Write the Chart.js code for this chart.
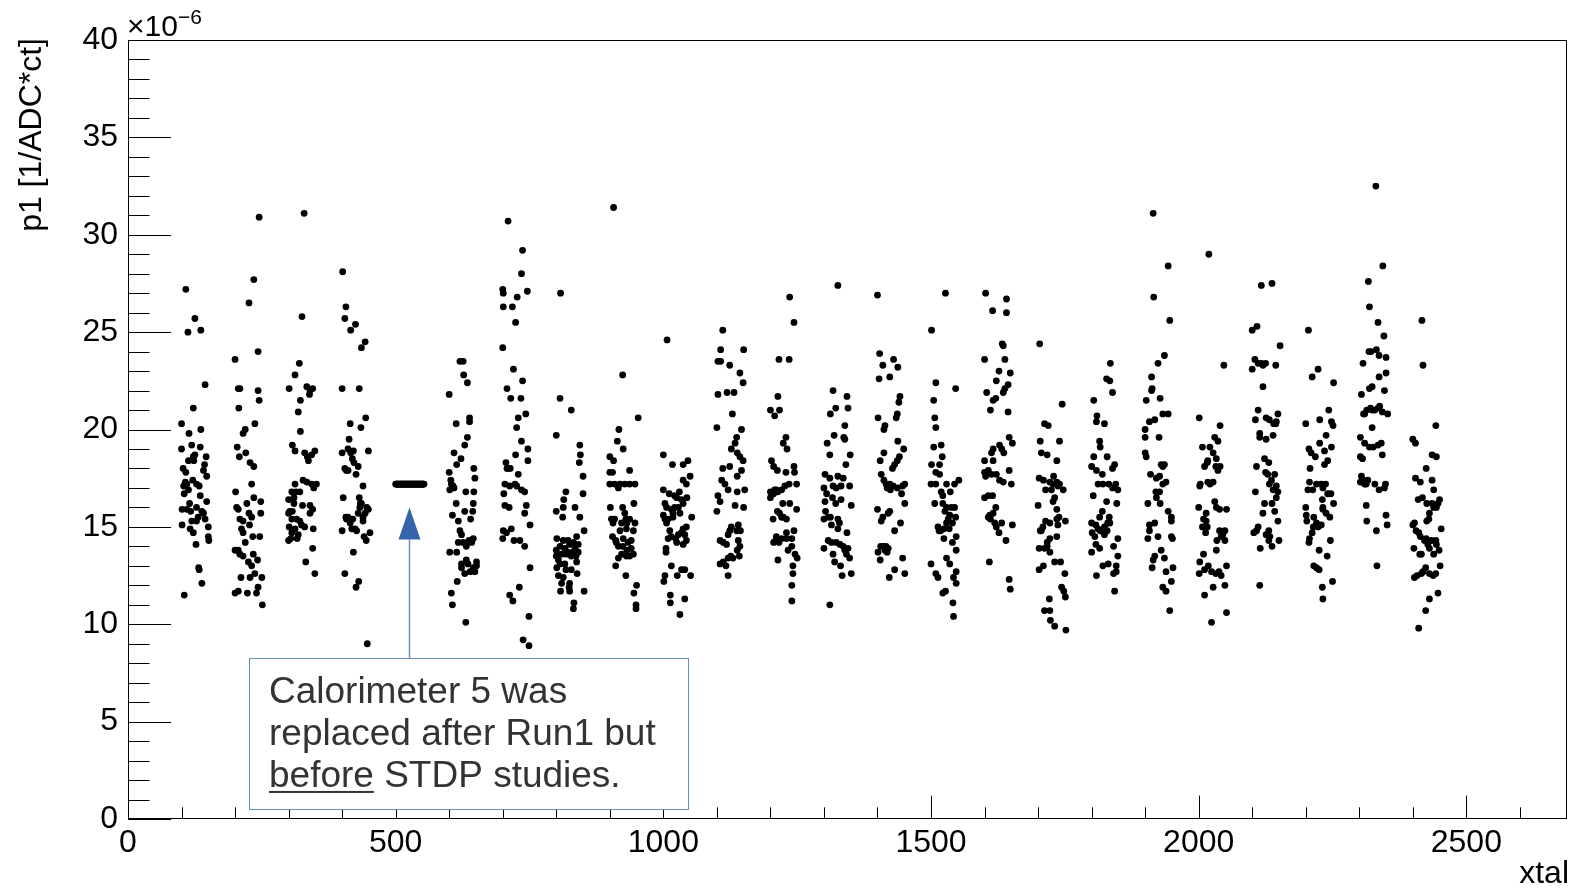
<!DOCTYPE html>
<html>
<head>
<meta charset="utf-8">
<script src="https://cdn.jsdelivr.net/npm/chart.js@4.4.1/dist/chart.umd.min.js"></script>
<style>
    html, body { margin: 0; padding: 0; background: #fff; }
    #wrap { position: relative; width: 1575px; height: 890px; }
</style>
</head>
<body>
<div id="wrap"><canvas id="chartP1" width="1575" height="890"></canvas></div>
<script>
// p1 per crystal, one list per calorimeter: [crystal in calo, p1 in units of 1e-6]
const calo01 = [[8,27.2],[25,25.7],[12,25.0],[36,25.1],[44,22.3],[22,21.1],[0,20.3],[14,19.8],[36,20.0],[0,19.0],[19,19.2],[35,19.1],[25,18.7],[22,18.6],[46,18.6],[13,18.4],[3,18.0],[43,18.2],[41,17.9],[47,17.6],[7,17.3],[21,17.4],[28,17.2],[4,17.1],[13,16.9],[5,16.7],[35,16.6],[47,16.3],[1,15.9],[10,15.9],[17,15.8],[28,16.0],[38,15.8],[41,15.7],[31,15.5],[19,15.3],[28,15.3],[1,15.1],[16,14.9],[50,15.0],[50,14.5],[51,14.3],[27,14.1],[32,12.9],[38,12.1],[5,11.5],[23,18.4],[8,17.8],[33,17.1],[15,16.2],[44,15.4],[22,14.7],[33,12.8],[10,17.2]];
const calo02 = [[45,30.9],[35,27.7],[26,26.5],[43,24.0],[0,23.6],[6,22.1],[9,22.1],[43,22.0],[45,21.5],[7,21.1],[37,20.3],[19,20.0],[15,19.8],[4,19.1],[20,18.8],[8,18.6],[28,18.3],[35,18.1],[31,17.2],[1,16.8],[22,16.2],[35,16.5],[48,16.3],[3,16.0],[6,15.9],[26,15.7],[48,15.7],[9,15.4],[15,15.3],[27,15.1],[12,14.9],[15,14.7],[33,14.5],[46,14.5],[0,13.8],[9,13.6],[15,13.5],[25,13.2],[31,13.0],[42,13.3],[37,12.6],[50,12.4],[28,12.4],[11,12.4],[0,11.6],[6,11.7],[23,11.6],[40,11.6],[43,11.9],[51,11.0],[19,14.2],[31,15.5],[6,13.8],[34,13.6]];
const calo03 = [[29,31.1],[25,25.8],[20,23.4],[12,22.8],[1,22.1],[34,22.2],[40,22.0],[45,22.1],[39,21.8],[22,21.5],[18,20.9],[22,19.9],[7,19.2],[12,18.9],[30,18.8],[35,18.6],[43,18.7],[49,18.9],[37,18.4],[27,17.4],[34,17.3],[43,17.2],[47,17.0],[52,17.2],[12,17.2],[6,16.8],[14,16.8],[21,16.8],[0,16.4],[10,16.5],[26,16.1],[40,16.1],[45,15.9],[2,15.8],[0,15.7],[7,15.8],[6,15.4],[15,15.4],[21,15.3],[1,15.0],[12,14.9],[24,15.1],[30,15.0],[46,14.9],[6,14.7],[18,14.6],[0,14.3],[4,14.4],[16,14.4],[45,13.9],[32,13.2],[49,12.6],[10,16.2],[40,15.7]];
const calo04 = [[1,28.1],[7,26.3],[5,25.7],[25,25.4],[16,25.1],[43,24.5],[36,24.2],[0,22.1],[32,22.1],[44,20.6],[15,20.3],[35,20.1],[13,19.5],[0,18.8],[11,19.0],[21,18.9],[49,18.9],[19,18.5],[22,18.3],[5,18.0],[11,17.9],[30,18.1],[26,17.7],[39,17.1],[2,16.5],[32,16.5],[36,16.2],[46,16.0],[49,15.9],[43,15.7],[39,15.3],[30,15.7],[11,15.5],[8,15.4],[20,15.4],[24,14.9],[18,14.9],[0,14.8],[52,14.7],[41,14.5],[45,14.3],[21,13.7],[5,12.6],[31,12.2],[26,11.9],[47,9.0],[15,15.2],[33,16.0],[8,17.9],[16,18.8],[39,15.5],[27,14.8],[7,15.5],[34,16.2]];
const calo05 = [[0,17.2],[1,17.2],[2,17.2],[3,17.2],[4,17.2],[5,17.2],[6,17.2],[7,17.2],[8,17.2],[9,17.2],[10,17.2],[11,17.2],[12,17.2],[13,17.2],[14,17.2],[15,17.2],[16,17.2],[17,17.2],[18,17.2],[19,17.2],[20,17.2],[21,17.2],[22,17.2],[23,17.2],[24,17.2],[25,17.2],[26,17.2],[27,17.2],[28,17.2],[29,17.2],[30,17.2],[31,17.2],[32,17.2],[33,17.2],[34,17.2],[35,17.2],[36,17.2],[37,17.2],[38,17.2],[39,17.2],[40,17.2],[41,17.2],[42,17.2],[43,17.2],[44,17.2],[45,17.2],[46,17.2],[47,17.2],[48,17.2],[49,17.2],[50,17.2],[51,17.2],[52,17.2],[53,17.2]];
const calo06 = [[20,23.5],[26,23.5],[27,22.8],[34,22.4],[0,21.8],[38,20.6],[38,20.4],[13,20.3],[34,19.6],[29,19.2],[9,18.8],[22,18.5],[14,18.2],[46,18.0],[48,17.5],[0,17.8],[3,17.4],[9,17.0],[31,16.8],[46,16.8],[13,16.2],[29,15.8],[44,15.8],[6,15.6],[40,15.4],[17,15.3],[23,14.6],[45,14.4],[42,14.2],[32,14.0],[17,14.2],[1,13.7],[14,13.7],[32,13.3],[51,13.0],[45,12.9],[39,12.7],[23,12.9],[29,12.6],[23,13.1],[15,12.2],[4,11.6],[6,11.0],[31,10.1],[4,17.2],[35,13.1],[51,13.2],[26,14.2],[1,16.9],[48,12.7],[20,14.8],[45,16.2],[37,14.3],[7,17.1]];
const calo07 = [[10,30.7],[37,29.2],[35,28.0],[0,27.2],[1,27.0],[27,26.8],[46,27.1],[1,26.3],[18,26.3],[24,25.5],[0,24.2],[20,23.1],[37,22.5],[8,22.1],[15,21.6],[34,21.6],[43,20.8],[29,20.6],[26,20.1],[35,19.4],[47,19.0],[24,18.7],[47,18.4],[6,18.3],[14,18.0],[8,18.0],[29,17.7],[4,17.2],[13,17.1],[23,17.2],[35,16.9],[41,16.8],[2,16.7],[4,16.1],[12,16.0],[44,16.1],[41,15.7],[51,15.1],[1,14.8],[0,14.4],[16,14.9],[21,14.3],[32,14.3],[41,14.0],[51,12.9],[31,11.9],[13,11.5],[19,11.2],[49,10.4],[38,9.2],[49,8.9],[10,18.0],[26,17.1],[7,14.7]];
const calo08 = [[8,27.0],[7,21.6],[28,21.0],[0,19.7],[44,19.2],[45,18.7],[43,18.3],[50,17.6],[18,16.8],[50,16.7],[14,16.4],[13,16.0],[35,16.0],[0,15.8],[12,15.5],[44,15.5],[52,14.8],[1,14.4],[38,14.5],[32,14.2],[7,14.0],[16,13.9],[25,14.1],[35,13.9],[41,14.1],[0,13.5],[4,13.3],[28,13.5],[22,13.7],[7,13.1],[16,13.1],[38,13.2],[39,12.6],[4,12.5],[13,12.4],[25,12.1],[24,11.9],[8,11.7],[52,11.7],[33,11.1],[32,10.8],[0,13.8],[19,13.6],[32,13.7],[10,13.6],[41,13.7],[1,12.9],[18,12.8],[28,12.8],[37,13.5],[13,14.3],[22,14.3],[10,12.1],[25,11.7]];
const calo09 = [[7,31.4],[24,22.8],[53,20.6],[17,20.0],[14,19.4],[25,19.0],[0,18.6],[7,18.4],[0,17.8],[5,17.8],[37,17.9],[0,17.2],[9,17.2],[19,17.2],[28,17.2],[37,17.2],[47,17.2],[16,17.0],[45,16.2],[1,16.0],[3,15.4],[9,15.4],[28,15.7],[30,15.4],[22,15.2],[32,15.2],[47,15.2],[44,14.8],[31,14.9],[5,14.5],[11,14.3],[40,14.3],[16,14.0],[22,13.6],[16,13.4],[31,13.5],[37,13.5],[40,13.9],[30,12.5],[50,12.0],[45,11.6],[49,11.0],[49,10.8],[24,14.0],[12,14.2],[34,14.2],[19,14.8],[25,14.4],[6,15.2],[37,15.4],[24,16.0],[44,13.6],[11,13.0],[32,13.8]];
const calo10 = [[7,24.6],[0,18.7],[17,18.2],[37,18.2],[46,18.4],[50,17.6],[37,17.4],[43,17.2],[0,16.9],[11,16.7],[21,16.6],[30,16.8],[25,16.5],[34,16.4],[44,16.5],[3,16.2],[6,16.0],[15,15.9],[21,16.0],[28,16.0],[0,15.6],[3,15.4],[9,15.4],[18,15.5],[53,15.5],[6,15.2],[37,14.9],[43,15.0],[34,14.7],[40,14.6],[43,14.3],[37,14.1],[9,14.4],[15,14.5],[23,14.4],[28,14.6],[5,13.9],[5,13.7],[15,13.0],[3,12.5],[1,12.2],[26,12.5],[34,12.8],[40,12.8],[51,12.5],[13,11.5],[13,11.1],[40,11.3],[31,10.5],[31,15.7],[12,14.8],[37,16.2],[25,14.2],[18,15.7]];
const calo11 = [[11,25.1],[7,24.1],[50,24.1],[2,23.5],[7,23.5],[24,23.3],[43,22.9],[49,22.4],[2,21.8],[19,21.9],[32,21.9],[29,20.8],[0,20.1],[46,20.0],[37,19.6],[34,19.3],[27,19.0],[38,18.8],[43,18.6],[49,18.4],[46,17.9],[24,18.1],[11,18.0],[38,17.6],[9,17.4],[15,17.2],[21,16.9],[38,16.8],[52,16.9],[2,16.6],[6,16.3],[34,16.1],[50,16.0],[0,15.8],[40,15.1],[27,15.0],[24,14.8],[21,14.6],[37,14.8],[6,14.3],[12,14.2],[18,14.1],[40,14.3],[43,14.0],[38,13.8],[21,13.4],[26,13.5],[42,13.5],[6,13.1],[12,13.2],[21,12.5],[30,13.4],[17,13.0],[44,14.8]];
const calo12 = [[36,26.8],[44,25.5],[16,23.6],[35,23.6],[14,21.7],[0,21.0],[17,21.0],[8,20.7],[29,19.6],[24,19.3],[31,19.0],[2,18.4],[6,18.1],[13,17.9],[29,17.8],[44,18.1],[45,17.8],[35,17.2],[27,17.1],[49,17.2],[21,16.9],[14,16.8],[0,16.8],[0,16.5],[6,16.7],[11,16.9],[23,16.2],[49,15.9],[13,15.8],[17,15.7],[24,15.5],[30,15.4],[5,15.4],[44,14.8],[11,14.5],[10,14.3],[21,14.4],[30,14.4],[40,14.4],[6,14.2],[40,14.0],[33,13.8],[46,13.6],[50,13.4],[14,13.3],[42,13.0],[42,12.6],[40,12.0],[40,11.2],[21,15.5],[30,14.7],[8,16.9],[36,16.2],[16,14.2]];
const calo13 = [[26,27.4],[17,22.0],[43,21.7],[22,21.1],[12,20.8],[45,21.1],[39,20.2],[19,19.7],[37,19.6],[39,19.5],[6,19.3],[11,18.7],[49,18.7],[41,18.2],[2,17.7],[11,17.5],[26,17.6],[36,17.5],[48,17.1],[0,17.0],[17,17.1],[23,17.0],[32,17.1],[5,16.7],[16,16.5],[32,16.4],[2,16.3],[22,16.2],[51,16.1],[3,15.8],[0,15.4],[12,15.5],[26,15.4],[29,15.2],[14,15.1],[26,14.9],[43,14.7],[8,14.3],[14,14.2],[0,13.9],[30,14.1],[36,14.0],[45,13.9],[42,13.6],[48,13.4],[17,13.6],[20,13.2],[31,13.0],[34,12.5],[51,12.6],[11,11.0],[23,14.2],[39,13.8],[8,15.5]];
const calo14 = [[0,26.9],[4,23.9],[10,23.3],[30,23.6],[38,23.2],[3,22.6],[23,22.7],[42,21.7],[40,21.4],[37,20.8],[35,20.6],[1,20.6],[14,20.2],[12,20.0],[38,19.4],[49,19.0],[12,18.8],[41,18.6],[5,18.4],[37,18.4],[32,18.2],[28,18.0],[7,17.7],[12,17.4],[16,17.2],[22,17.1],[29,17.1],[51,17.2],[47,17.1],[24,16.9],[45,16.7],[51,16.2],[0,15.9],[23,15.8],[20,15.7],[7,15.3],[43,15.2],[32,14.8],[6,14.0],[11,14.0],[16,14.0],[20,13.9],[1,13.7],[18,13.7],[5,13.3],[47,13.4],[32,12.8],[51,12.6],[22,12.4],[18,17.0],[23,17.2],[14,13.8],[37,17.0],[10,15.5]];
const calo15 = [[27,27.0],[1,25.1],[9,22.4],[46,22.1],[5,21.5],[7,20.6],[9,20.1],[5,19.1],[19,19.2],[21,18.6],[1,18.2],[16,18.2],[9,17.8],[16,17.7],[0,17.2],[9,17.2],[29,17.2],[44,17.2],[52,17.4],[19,16.8],[22,16.6],[36,16.8],[7,16.2],[22,16.2],[29,16.0],[38,16.0],[44,16.0],[26,15.8],[35,15.6],[46,15.5],[32,15.4],[29,15.2],[40,15.2],[13,15.0],[18,14.8],[24,14.9],[34,14.9],[15,14.8],[24,14.4],[47,14.5],[40,14.2],[47,13.8],[0,13.1],[9,12.6],[13,12.4],[29,13.4],[35,13.1],[47,12.7],[42,12.4],[47,12.1],[27,11.7],[22,11.6],[41,11.1],[42,10.4]];
const calo16 = [[2,27.0],[41,26.7],[15,26.1],[41,26.0],[33,24.4],[35,24.3],[0,23.6],[38,23.6],[27,23.0],[48,22.9],[22,22.5],[44,22.3],[38,22.1],[35,21.9],[4,21.9],[21,21.6],[16,21.5],[11,21.0],[44,20.9],[46,19.6],[52,19.3],[28,19.2],[16,19.0],[13,18.8],[36,18.8],[0,18.4],[16,18.4],[7,17.9],[46,17.9],[2,17.6],[13,17.7],[22,17.7],[28,17.4],[35,17.3],[50,17.2],[0,16.5],[7,16.6],[15,16.6],[21,16.0],[16,15.7],[7,15.5],[11,15.4],[32,15.2],[22,15.0],[52,15.1],[27,14.7],[40,14.3],[9,13.2],[46,12.3],[48,11.8],[10,15.6],[0,17.8],[19,15.2],[32,19.0]];
const calo17 = [[3,24.4],[45,21.3],[12,20.3],[19,20.2],[4,19.4],[40,19.4],[6,18.8],[17,18.7],[35,18.4],[2,17.5],[10,17.4],[22,17.3],[29,17.6],[35,17.3],[40,17.2],[14,16.9],[25,16.9],[37,17.1],[47,16.9],[31,16.5],[28,16.3],[0,16.1],[35,15.9],[14,15.3],[22,15.2],[35,15.4],[37,15.1],[51,15.3],[4,14.8],[6,14.8],[22,14.4],[35,14.5],[17,14.2],[2,13.9],[12,13.9],[22,13.7],[31,13.2],[42,13.2],[2,12.8],[10,13.0],[50,12.6],[44,11.9],[48,11.7],[51,11.4],[21,11.3],[12,10.7],[22,10.7],[23,10.2],[31,9.9],[52,9.7],[9,15.0],[28,17.2],[17,14.0],[39,15.5]];
const calo18 = [[35,23.4],[28,22.6],[34,22.5],[39,21.9],[4,21.5],[10,20.7],[9,20.4],[24,20.3],[15,19.4],[16,19.1],[4,18.6],[29,18.6],[43,18.2],[39,18.0],[0,18.1],[9,17.9],[20,17.7],[12,17.2],[21,17.2],[32,17.2],[45,17.2],[49,16.9],[39,17.0],[3,16.6],[28,16.3],[47,16.2],[20,15.8],[33,15.5],[0,15.2],[8,15.1],[12,14.9],[24,15.0],[30,15.2],[29,14.8],[16,14.8],[1,14.7],[6,14.5],[24,14.6],[49,14.4],[41,14.0],[49,13.5],[8,14.1],[15,13.9],[0,13.7],[31,13.1],[21,13.0],[46,13.0],[46,12.7],[41,12.6],[9,12.5],[43,11.7],[18,14.8],[34,15.2],[15,15.5]];
const calo19 = [[15,31.1],[43,28.4],[16,26.8],[46,25.6],[36,23.8],[24,23.4],[12,22.7],[12,22.0],[13,22.1],[2,21.5],[28,21.6],[33,20.8],[43,20.8],[18,20.5],[8,20.4],[0,20.0],[0,19.6],[26,19.6],[0,18.8],[2,18.6],[30,18.2],[36,18.2],[10,17.7],[27,17.6],[39,17.3],[33,17.2],[20,16.8],[27,16.8],[21,16.5],[5,16.2],[28,16.2],[43,15.8],[49,15.5],[49,15.3],[8,15.1],[18,15.2],[5,14.4],[49,14.5],[51,14.4],[30,13.8],[18,13.5],[15,13.3],[36,13.4],[13,12.9],[39,12.7],[52,12.9],[49,12.2],[33,11.9],[39,11.7],[46,10.7],[21,17.5],[8,14.8],[33,18.1],[24,14.5]];
const calo20 = [[19,29.0],[47,23.3],[1,20.6],[40,20.2],[30,19.6],[36,19.4],[7,19.1],[21,19.1],[27,18.8],[33,18.5],[17,18.4],[11,18.1],[32,18.1],[40,18.1],[17,17.3],[27,17.3],[3,17.2],[2,17.1],[30,16.3],[33,16.0],[39,15.9],[52,15.9],[0,16.0],[14,15.7],[9,15.4],[14,15.3],[7,15.0],[13,14.7],[39,14.8],[49,14.8],[45,14.6],[34,14.3],[49,14.3],[33,13.8],[9,13.6],[2,13.2],[18,13.0],[24,12.7],[38,12.7],[42,12.5],[52,13.0],[32,12.6],[1,12.6],[49,12.0],[27,11.9],[11,11.5],[52,10.6],[24,10.1],[21,17.2],[16,15.0],[42,14.5],[11,12.8],[36,17.9],[16,18.3]];
const calo21 = [[17,27.4],[37,27.5],[0,25.1],[9,25.3],[52,24.3],[5,23.6],[11,23.4],[0,23.1],[20,23.3],[25,23.4],[44,23.3],[20,22.2],[11,21.0],[6,20.5],[26,20.6],[32,20.5],[40,20.3],[48,20.8],[44,20.3],[14,19.8],[14,19.6],[26,19.5],[39,19.7],[8,18.1],[23,18.5],[31,18.3],[25,17.8],[29,17.7],[42,17.7],[36,17.4],[45,17.1],[39,16.9],[48,16.8],[45,16.5],[37,16.2],[6,16.8],[20,15.7],[42,15.8],[48,15.3],[11,15.0],[3,14.7],[31,14.8],[26,14.6],[31,14.3],[37,14.0],[50,14.3],[15,13.9],[14,12.0],[33,14.5],[17,23.4],[45,20.4],[32,17.2],[23,16.2],[8,14.8]];
const calo22 = [[5,25.1],[23,23.1],[12,22.7],[52,22.4],[43,21.0],[0,20.3],[26,20.5],[48,20.4],[51,20.2],[38,19.7],[26,19.3],[48,19.1],[6,19.0],[10,18.8],[18,18.6],[35,18.9],[35,18.2],[8,18.0],[7,17.3],[29,17.2],[37,17.2],[4,16.9],[13,16.9],[32,17.0],[41,16.7],[47,16.7],[31,16.4],[32,16.0],[52,16.2],[0,16.0],[1,15.6],[15,15.5],[38,15.7],[45,15.5],[2,15.3],[20,15.2],[29,15.1],[23,15.0],[12,14.7],[7,14.4],[6,14.2],[46,14.3],[25,13.8],[40,13.5],[15,13.0],[20,12.9],[25,12.8],[50,12.2],[31,11.9],[32,11.3],[20,17.2],[32,15.9],[14,15.0],[41,18.4]];
const calo23 = [[31,32.5],[44,28.4],[17,27.6],[19,26.3],[35,25.5],[46,24.8],[18,24.0],[32,24.1],[37,23.8],[50,23.7],[7,23.4],[50,22.9],[37,22.7],[19,22.1],[24,22.2],[47,22.0],[4,21.8],[14,21.0],[21,21.1],[35,21.1],[43,20.9],[53,20.8],[8,20.8],[29,21.0],[24,20.1],[2,19.6],[10,19.3],[19,19.1],[26,19.1],[41,19.3],[43,18.7],[2,18.6],[6,18.5],[4,17.6],[7,17.4],[2,17.3],[10,17.2],[29,17.2],[37,16.9],[49,17.2],[13,16.1],[50,15.6],[52,15.1],[14,15.3],[32,14.8],[33,13.0],[16,17.4],[24,21.0],[10,20.8],[38,21.2],[35,19.2],[13,17.2],[22,24.0],[47,17.0]];
const calo24 = [[17,25.6],[19,23.3],[43,20.2],[0,19.5],[5,19.3],[36,18.7],[44,18.6],[25,18.0],[5,17.5],[14,17.3],[36,17.4],[39,16.9],[18,16.5],[10,16.4],[26,16.2],[36,16.2],[44,16.0],[50,16.4],[31,15.7],[39,16.0],[30,15.4],[26,15.3],[3,15.2],[0,15.1],[53,14.9],[11,14.7],[14,14.5],[25,14.4],[35,14.3],[43,14.3],[2,13.9],[13,13.6],[31,13.9],[39,13.6],[49,13.8],[51,13.0],[24,12.9],[19,12.7],[31,12.6],[3,12.4],[8,12.5],[43,12.6],[47,11.6],[31,11.3],[24,10.7],[11,9.8],[16,13.6],[28,14.1],[44,14.1],[22,14.3],[16,12.6],[47,16.2],[6,14.8],[38,12.5]];

const calos = [calo01, calo02, calo03, calo04, calo05, calo06, calo07, calo08,
               calo09, calo10, calo11, calo12, calo13, calo14, calo15, calo16,
               calo17, calo18, calo19, calo20, calo21, calo22, calo23, calo24];

const xMajor = [0, 500, 1000, 1500, 2000, 2500];
const yMajor = [0, 5, 10, 15, 20, 25, 30, 35, 40];
const xMax = 2688;
const yMax = 40;

const noteLines = ["Calorimeter 5 was", "replaced after Run1 but", "before STDP studies."];

// xtal number = calo * 100 + crystal
const points = calos.flatMap((pts, k) => pts.map(([i, v]) => ({ x: (k + 1) * 100 + i, y: v })));

const FONT = '"Liberation Sans", Arial, Helvetica, sans-serif';

// axes in ROOT style: ticks inside the frame, labels outside
const rootAxes = {
    id: 'rootAxes',
    afterDatasetsDraw(chart) {
        const ctx = chart.ctx;
        const xs = chart.scales.x, ys = chart.scales.y;
        const a = chart.chartArea;
        const w = a.right - a.left, h = a.bottom - a.top;

        ctx.save();
        ctx.strokeStyle = '#000';
        ctx.lineWidth = 1;

        // frame
        ctx.strokeRect(Math.round(a.left) + 0.5, Math.round(a.top) + 0.5,
                       Math.round(w) - 1, Math.round(h) - 1);

        // x ticks
        ctx.beginPath();
        for (let v = 0; v <= xMax; v += 100) {
            const px = Math.round(xs.getPixelForValue(v)) + 0.5;
            const len = (v % 500 === 0) ? h * 0.03 : h * 0.015;
            ctx.moveTo(px, a.bottom);
            ctx.lineTo(px, a.bottom - len);
        }
        // y ticks
        for (let v = 0; v <= yMax; v += 1) {
            const py = Math.round(ys.getPixelForValue(v)) + 0.5;
            const len = (v % 5 === 0) ? w * 0.03 : w * 0.015;
            ctx.moveTo(a.left, py);
            ctx.lineTo(a.left + len, py);
        }
        ctx.stroke();

        // tick labels
        ctx.fillStyle = '#000';
        ctx.font = '32px ' + FONT;
        ctx.textAlign = 'center';
        ctx.textBaseline = 'alphabetic';
        xMajor.forEach(v => ctx.fillText(String(v), xs.getPixelForValue(v), a.bottom + 33));
        ctx.textAlign = 'right';
        ctx.textBaseline = 'middle';
        yMajor.forEach(v => ctx.fillText(String(v), a.left - 10, ys.getPixelForValue(v)));

        // exponent
        ctx.textAlign = 'left';
        ctx.textBaseline = 'alphabetic';
        ctx.font = '30px ' + FONT;
        ctx.fillText('\u00d710', a.left - 1, a.top - 4);
        const ew = ctx.measureText('\u00d710').width;
        ctx.font = '21px ' + FONT;
        ctx.fillText('\u22126', a.left - 1 + ew, a.top - 16);

        // axis titles
        ctx.font = '32px ' + FONT;
        ctx.textAlign = 'right';
        ctx.fillText('xtal', a.right + 2, a.bottom + 64);
        ctx.save();
        ctx.translate(41, a.top - 2);
        ctx.rotate(-Math.PI / 2);
        ctx.textAlign = 'right';
        ctx.fillText('p1 [1/ADC*ct]', 0, 0);
        ctx.restore();

        // note box pointing at calorimeter 5
        const bx0 = xs.getPixelForValue(226), bx1 = xs.getPixelForValue(1046);
        const by0 = ys.getPixelForValue(8.27), by1 = ys.getPixelForValue(0.5);
        ctx.fillStyle = '#fff';
        ctx.fillRect(bx0, by0, bx1 - bx0, by1 - by0);
        ctx.strokeStyle = '#6a8cc8';
        ctx.strokeRect(Math.round(bx0) + 0.5, Math.round(by0) + 0.5, Math.round(bx1 - bx0), Math.round(by1 - by0));

        const ax = Math.round(xs.getPixelForValue(525)) + 0.5;
        const tipY = ys.getPixelForValue(16.0);
        const baseY = tipY + 32;
        ctx.beginPath();
        ctx.moveTo(ax, Math.round(by0));
        ctx.lineTo(ax, baseY);
        ctx.strokeStyle = '#6a8cc8';
        ctx.lineWidth = 1.5;
        ctx.stroke();
        ctx.beginPath();
        ctx.moveTo(ax, tipY);
        ctx.lineTo(ax - 11, baseY);
        ctx.lineTo(ax + 11, baseY);
        ctx.closePath();
        ctx.fillStyle = '#3564a8';
        ctx.fill();

        ctx.fillStyle = '#333';
        ctx.font = '37px ' + FONT;
        ctx.textAlign = 'left';
        ctx.textBaseline = 'alphabetic';
        const tx = bx0 + 20;
        noteLines.forEach((t, k) => ctx.fillText(t, tx, by0 + 45 + k * 42));
        const uw = ctx.measureText('before').width;
        ctx.fillRect(tx, by0 + 45 + 2 * 42 + 4, uw, 2);

        ctx.restore();
    }
};

new Chart(document.getElementById('chartP1'), {
    type: 'scatter',
    data: {
        datasets: [{
            label: 'p1',
            data: points,
            backgroundColor: '#000',
            borderWidth: 0,
            pointRadius: 3.4,
            pointHoverRadius: 3.4
        }]
    },
    options: {
        responsive: false,
        animation: false,
        events: [],
        layout: { padding: { left: 128, right: 8, top: 40, bottom: 71 } },
        scales: {
            x: { type: 'linear', min: 0, max: xMax, display: false },
            y: { type: 'linear', min: 0, max: yMax, display: false }
        },
        plugins: {
            legend: { display: false },
            tooltip: { enabled: false }
        }
    },
    plugins: [rootAxes]
});
</script>
</body>
</html>
